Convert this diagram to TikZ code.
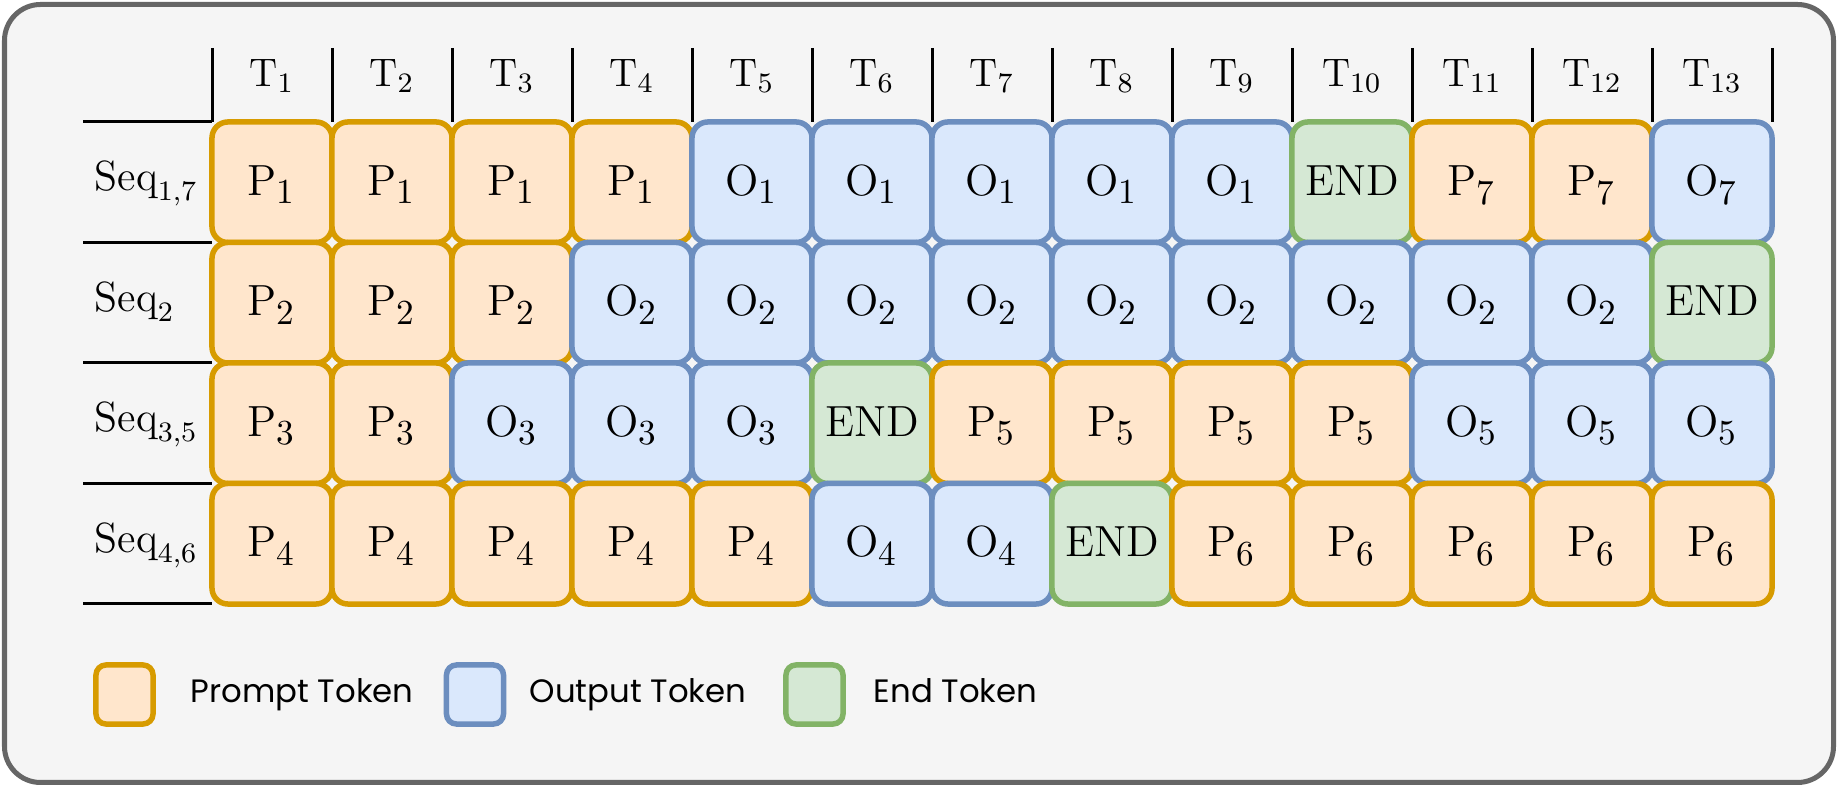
\documentclass[tikz,border=0pt]{standalone}
\usepackage{fontspec}
\newfontfamily\legendfont{Poppins}
\usepackage{tikz}
\DeclareMathSizes{12.4}{12.4}{10}{8}

\definecolor{promptfill}{HTML}{FFE6CC}
\definecolor{promptdraw}{HTML}{D79B00}
\definecolor{outfill}{HTML}{DAE8FC}
\definecolor{outdraw}{HTML}{6C8EBF}
\definecolor{endfill}{HTML}{D5E8D4}
\definecolor{enddraw}{HTML}{82B366}
\definecolor{panelfill}{HTML}{F5F5F5}
\definecolor{paneldraw}{HTML}{666666}

\tikzset{
  cell/.style={rounded corners=0.16cm, minimum width=1.2cm, minimum height=1.205cm,
    line width=0.055cm, inner sep=0pt, text height=8.5pt, text depth=1.2pt,
    font=\fontsize{12.4}{15}\selectfont},
  ptok/.style={cell, draw=promptdraw, fill=promptfill},
  otok/.style={cell, draw=outdraw, fill=outfill},
  etok/.style={cell, draw=enddraw, fill=endfill},
  legendbox/.style={minimum width=0.57cm, minimum height=0.59cm, rounded corners=0.1cm},
  legendtext/.style={anchor=base west, inner sep=0pt, font=\legendfont\fontsize{9.2}{11}\selectfont},
  rule/.style={line width=0.03cm},
  rowlabel/.style={anchor=base west, inner sep=0pt, font=\fontsize{12}{14}\selectfont}
}

\begin{document}
\begin{tikzpicture}[x=0.01cm, y=-0.01cm]
  \useasboundingbox (0,0) rectangle (1839,786);
  \draw[rounded corners=0.36cm, line width=0.05cm, draw=paneldraw, fill=panelfill]
    (4.5,4.5) rectangle (1833.5,782.5);

  % time steps
  \foreach \k in {0,...,13}
    \draw[rule] ({212+120*\k},48) -- ({212+120*\k},122);
  \foreach \i in {1,...,13}
    \node[anchor=base, font=\fontsize{11.3}{13}\selectfont] (t\i) at ({212+120*(\i-0.5)},86.7) {$\mathrm{T}_{\i}$};

  % sequences
  \foreach \k in {0,...,4}
    \draw[rule] (83,{122+120.5*\k}) -- (212,{122+120.5*\k});
  \node[rowlabel] (s1) at (94,{182.25+8.5}) {$\mathrm{Seq}_{1,7}$};
  \node[rowlabel] (s2) at (94,{302.75+8.5}) {$\mathrm{Seq}_{2}$};
  \node[rowlabel] (s3) at (94,{423.25+8.5}) {$\mathrm{Seq}_{3,5}$};
  \node[rowlabel] (s4) at (94,{543.75+8.5}) {$\mathrm{Seq}_{4,6}$};

  \foreach \row [count=\j] in {
    {ptok/P_1,ptok/P_1,ptok/P_1,ptok/P_1,otok/O_1,otok/O_1,otok/O_1,otok/O_1,otok/O_1,etok/END,ptok/P_7,ptok/P_7,otok/O_7},
    {ptok/P_2,ptok/P_2,ptok/P_2,otok/O_2,otok/O_2,otok/O_2,otok/O_2,otok/O_2,otok/O_2,otok/O_2,otok/O_2,otok/O_2,etok/END},
    {ptok/P_3,ptok/P_3,otok/O_3,otok/O_3,otok/O_3,etok/END,ptok/P_5,ptok/P_5,ptok/P_5,ptok/P_5,otok/O_5,otok/O_5,otok/O_5},
    {ptok/P_4,ptok/P_4,ptok/P_4,ptok/P_4,ptok/P_4,otok/O_4,otok/O_4,etok/END,ptok/P_6,ptok/P_6,ptok/P_6,ptok/P_6,ptok/P_6}}
    \foreach \kind/\lbl [count=\i] in \row
      \node[\kind] (c\j-\i) at ({212+120*(\i-0.5)},{122+120.5*(\j-0.5)}) {$\mathrm{\lbl}$};

  % legend
  \node[ptok, legendbox] (lp) at (124.5,694.5) {};
  \node[legendtext] (lpt) at (190,703) {Prompt Token};
  \node[otok, legendbox] (lo) at (475,694.5) {};
  \node[legendtext] (lot) at (529,703) {Output Token};
  \node[etok, legendbox] (le) at (814.5,694.5) {};
  \node[legendtext] (let) at (873,703) {End Token};
\end{tikzpicture}
\end{document}
